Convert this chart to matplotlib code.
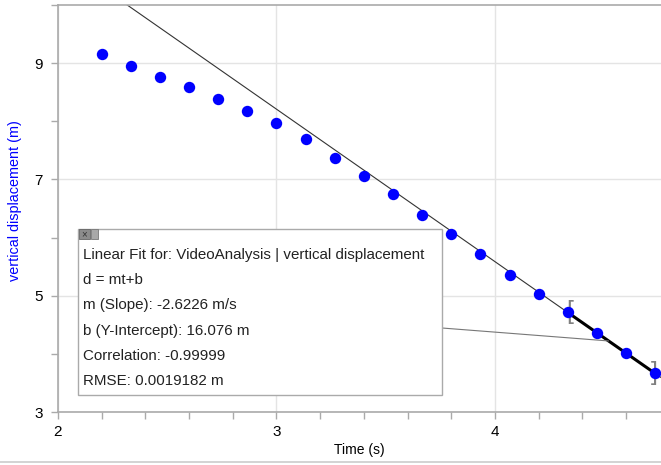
import matplotlib
matplotlib.use("Agg")
import matplotlib.pyplot as plt
import numpy as np
from matplotlib.patches import Rectangle
from matplotlib.lines import Line2D

plt.rcParams["font.family"] = ["Liberation Sans", "DejaVu Sans"]

# ---------------------------------------------------------------------------
# Data
# ---------------------------------------------------------------------------
time_s = [2.200, 2.333, 2.467, 2.600, 2.733, 2.867, 3.000, 3.133, 3.267, 3.400,
          3.533, 3.667, 3.800, 3.933, 4.067, 4.200, 4.333, 4.467, 4.600, 4.733]
disp_m = [9.151, 8.957, 8.763, 8.585, 8.391, 8.185, 7.962, 7.692, 7.366, 7.063,
          6.742, 6.382, 6.068, 5.712, 5.357, 5.038, 4.717, 4.356, 4.008, 3.664]

slope = -2.6226
intercept = 16.076
fit_range = (4.333, 4.733)
leader_t = 4.52

x_major = [2, 3, 4]
y_major = [3, 5, 7, 9]

fit_lines = [
    "Linear Fit for: VideoAnalysis | vertical displacement",
    "d = mt+b",
    "m (Slope): -2.6226 m/s",
    "b (Y-Intercept): 16.076 m",
    "Correlation: -0.99999",
    "RMSE: 0.0019182 m",
]

fig = plt.figure(figsize=(6.61, 4.65), dpi=100)
ax = fig.add_axes([58 / 661, 1 - 412 / 465, 603 / 661, 407 / 465])

ax.set_xlim(2, 2 + 603 / 218.5)
ax.set_ylim(3, 3 + 407 / 58.25)

# full fit line (thin) and fitted range (thick)
tt = np.array(ax.get_xlim())
ax.plot(tt, slope * tt + intercept, color="#333333", lw=0.8, zorder=2)
tr = np.array(fit_range)
ax.plot(tr, slope * tr + intercept, color="black", lw=2.2, zorder=4)

ax.plot(time_s, disp_m, "o", color="#0000ff", ms=8.2, mec="none", zorder=5)

# range brackets (behind the points)
ax.text(tr[0] + 0.01, slope * tr[0] + intercept, "[", color="#808080",
        fontsize=18, ha="center", va="center", zorder=3)
ax.text(tr[1] - 0.006, slope * tr[1] + intercept, "]", color="#808080",
        fontsize=18, ha="center", va="center", zorder=3)

# axes styling
ax.set_xticks(x_major)
ax.set_xticks(np.arange(2, 4.8, 0.2), minor=True)
ax.set_yticks(y_major)
ax.set_yticks(np.arange(3, 10.5, 1), minor=True)
ax.grid(True, which="major", color="#e4e4e4", lw=1.0, zorder=0)
ax.set_axisbelow(True)
for s in ("left", "bottom", "top"):
    ax.spines[s].set_color("#aaaaaa")
    ax.spines[s].set_linewidth(1.2)
ax.spines["right"].set_visible(False)
ax.tick_params(which="both", colors="#aaaaaa", labelcolor="black",
               labelsize=11, length=5, width=1.0)
ax.tick_params(axis="x", pad=4)
ax.tick_params(axis="y", pad=6)

ax.set_xlabel("Time (s)", fontsize=10, labelpad=3)
ax.set_ylabel("vertical displacement (m)", fontsize=10.4, color="#0000ff")
ax.yaxis.set_label_coords(-36 / 603, (412 - 201) / 407)

# fit info box
bx0, bx1 = 20 / 603, 384 / 603
by0, by1 = 17 / 407, 183 / 407
ax.add_patch(Rectangle((bx0, by0), bx1 - bx0, by1 - by0, transform=ax.transAxes,
                       facecolor="white", edgecolor="#aaaaaa", lw=1.0, zorder=7))
# close / minimize icons
ax.add_patch(Rectangle((bx0 + 1 / 603, by1 - 10 / 407), 11 / 603, 10 / 407,
                       transform=ax.transAxes, facecolor="#8c8c8c",
                       edgecolor="#666666", lw=0.6, zorder=8))
ax.add_patch(Rectangle((bx0 + 13 / 603, by1 - 10 / 407), 7 / 603, 10 / 407,
                       transform=ax.transAxes, facecolor="#a8a8a8",
                       edgecolor="#777777", lw=0.6, zorder=8))
ax.text(bx0 + 6.5 / 603, by1 - 5 / 407, "×", transform=ax.transAxes,
        fontsize=7, ha="center", va="center", color="#333333", zorder=9)

for i, line in enumerate(fit_lines):
    ax.text(bx0 + 5 / 603, (412 - 255 - 25.2 * i) / 407, line,
            transform=ax.transAxes, fontsize=10.9, ha="left", va="center",
            color="#222222", zorder=9)

# leader from box to fitted line
ax.annotate("", xy=(leader_t, slope * leader_t + intercept), xycoords="data",
            xytext=(bx1, 84 / 407), textcoords="axes fraction",
            arrowprops=dict(arrowstyle="-", color="#777777", lw=0.8,
                            shrinkA=0, shrinkB=0), zorder=6)

fig.add_artist(Line2D([0, 1], [3 / 465, 3 / 465], color="#cccccc", lw=1.2))

fig.savefig("out.png", dpi=100)
